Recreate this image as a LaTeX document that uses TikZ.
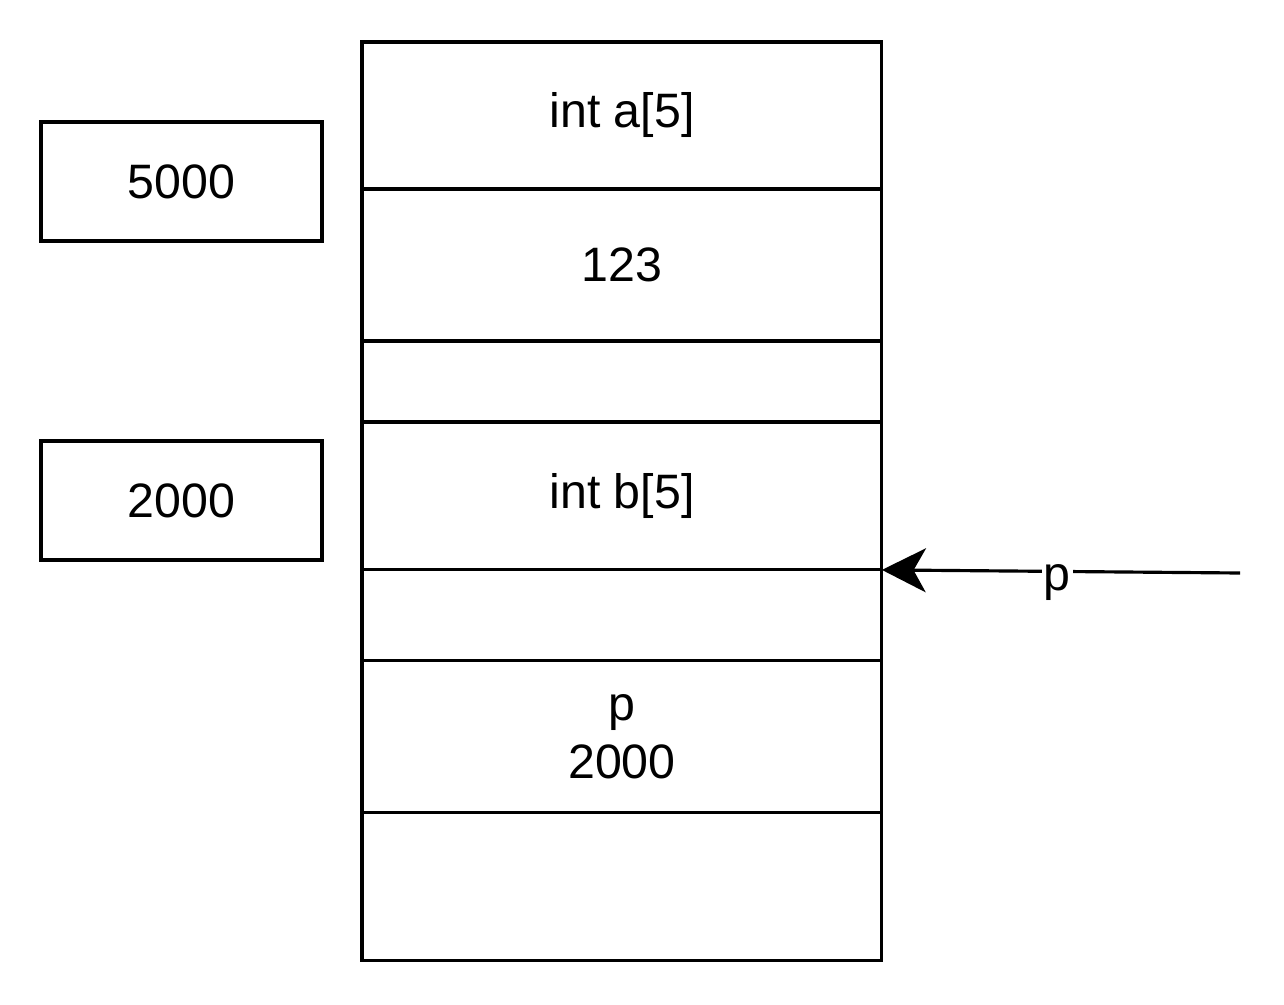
\documentclass[tikz,border=0pt]{standalone}
\usepackage{fontspec}
\setmainfont{Liberation Sans}
\usetikzlibrary{arrows.meta,positioning}
\tikzset{
  slot/.style={draw=black,line width=1.8pt,outer sep=0pt,minimum width=10.4cm,
    align=center,font=\fontsize{27.5}{33}\selectfont},
  addr/.style={draw=black,line width=1.8pt,outer sep=0pt,minimum width=5.62cm,
    minimum height=2.38cm,align=center,font=\fontsize{27.5}{33}\selectfont},
  arrow/.style={-{Stealth[length=25pt,width=25pt,inset=7pt]},line width=1.8pt,black}
}
\begin{document}
\begin{tikzpicture}[x=0.02cm,y=-0.02cm,node distance=0pt]
  \useasboundingbox (0,0) rectangle (1284,1004);
  % memory column
  \node[slot,minimum height=2.94cm,anchor=north west] (s0) at (362,42) {int a[5]};
  \node[slot,minimum height=3.04cm,below=of s0] (s1) {123};
  \node[slot,minimum height=1.62cm,below=of s1] (s2) {};
  \node[slot,minimum height=2.96cm,below=of s2] (s3) {int b[5]};
  \node[slot,minimum height=1.82cm,below=of s3] (s4) {};
  \node[slot,minimum height=3.04cm,below=of s4] (s5) {p\\2000};
  \node[slot,minimum height=2.96cm,below=of s5] (s6) {};
  % addresses
  \node[addr,anchor=north west] (a5000) at (41,122) {5000};
  \node[addr,anchor=north west] (a2000) at (41,441) {2000};
  % pointer
  \coordinate (ptail) at (1240,573);
  \draw[arrow] (ptail) -- (s4.north east)
    node[pos=0.51,yshift=-6.5pt,fill=white,inner sep=1pt,
      font=\fontsize{27.5}{33}\selectfont] (plabel) {p};
\end{tikzpicture}
\end{document}
